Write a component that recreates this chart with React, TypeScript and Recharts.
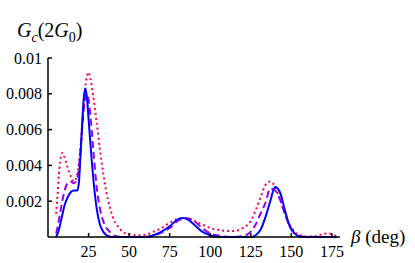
import React from "react";
import { LineChart, Line, XAxis, YAxis } from "recharts";

// beta (deg)
const beta = [
  5, 6, 7, 8, 9, 10, 12, 14, 16, 18, 19, 20, 21, 22, 23, 24, 25, 26, 28, 30,
  32, 34, 36, 38, 40, 43, 46, 50, 55, 60, 65, 70, 75, 80, 83, 86, 90, 95, 100,
  105, 110, 115, 120, 125, 128, 131, 134, 137, 140, 143, 146, 149, 152, 155,
  160, 165, 170, 173, 176, 178,
];

// solid blue
const gSolid = [
  0, 0.0002, 0.0005, 0.0009, 0.0013, 0.0017, 0.0022, 0.0025, 0.0026, 0.0026,
  0.003, 0.0045, 0.0062, 0.0077, 0.0083, 0.0078, 0.0066, 0.0054, 0.0032,
  0.0016, 0.0007, 0.0003, 0.0001, 0.00003, 0, 0, 0, 0, 0, 0, 0.0001, 0.0003,
  0.0006, 0.00098, 0.00106, 0.00098, 0.0007, 0.0003, 0.0001, 0, 0, 0, 0, 0,
  0.0001, 0.0004, 0.0011, 0.002, 0.0028, 0.0025, 0.0015, 0.0006, 0.0002,
  0.00003, 0, 0, 0, 0, 0, 0,
];

// dashed purple
const gDashed = [
  0.0002, 0.0006, 0.0011, 0.0016, 0.0021, 0.0025, 0.003, 0.0031, 0.003,
  0.0033, 0.0038, 0.0048, 0.006, 0.0071, 0.0078, 0.008, 0.0077, 0.0069,
  0.0048, 0.0028, 0.0016, 0.0009, 0.0005, 0.0003, 0.0001, 0.00003, 0, 0, 0, 0,
  0.00008, 0.00025, 0.0005, 0.0009, 0.00102, 0.00105, 0.0009, 0.0005, 0.0002,
  0.00008, 0.00002, 0, 0.00005, 0.0003, 0.0007, 0.0013, 0.0019, 0.0027,
  0.0026, 0.0021, 0.0013, 0.0006, 0.0002, 0.00005, 0, 0, 0, 0, 0, 0,
];

// dotted red
const gDotted = [
  0.0013, 0.0025, 0.0038, 0.0045, 0.0047, 0.0045, 0.0039, 0.0034, 0.0031,
  0.0035, 0.0041, 0.005, 0.0062, 0.0074, 0.0084, 0.009, 0.0092, 0.0089,
  0.0078, 0.0064, 0.0049, 0.0036, 0.0025, 0.0017, 0.0011, 0.0006, 0.0003,
  0.00015, 0.0001, 0.00012, 0.0003, 0.0005, 0.0008, 0.00102, 0.00107,
  0.00105, 0.0009, 0.0007, 0.0005, 0.0004, 0.00034, 0.00034, 0.0005, 0.0009,
  0.0015, 0.0022, 0.0029, 0.0031, 0.0028, 0.0021, 0.0013, 0.0007, 0.0003,
  0.0001, 0.00003, 0.00005, 0.00018, 0.0002, 0.0001, 0.00002,
];

const xTicks = [25, 50, 75, 100, 125, 150, 175];
const yTicks = [0.002, 0.004, 0.006, 0.008, 0.01];

const data = beta.map((b, i) => ({
  beta: b,
  solid: gSolid[i],
  dashed: gDashed[i],
  dotted: gDotted[i],
}));

const font = "Liberation Serif, Times New Roman, serif";

export default function App() {
  return (
    <div style={{ position: "absolute", left: 0, top: 0, width: 415, height: 263, background: "#fff" }}>
      <LineChart width={415} height={263} data={data} margin={{ top: 58, right: 75, left: 0, bottom: 4 }}>
        <XAxis
          dataKey="beta"
          type="number"
          domain={[0, 180]}
          ticks={xTicks}
          stroke="#000"
          strokeWidth={1.5}
          tickSize={-4}
          tickMargin={13}
          height={22}
          tick={{ fill: "#000", fontSize: 16, fontFamily: font }}
        />
        <YAxis
          type="number"
          domain={[0, 0.01]}
          ticks={yTicks}
          width={48}
          stroke="#000"
          strokeWidth={1.5}
          tickSize={-4}
          tickMargin={10}
          tickFormatter={(v: number) => String(v)}
          tick={{ fill: "#000", fontSize: 16, fontFamily: font }}
        />
        <Line
          type="monotone"
          dataKey="dotted"
          stroke="#ff0055"
          strokeWidth={2}
          strokeDasharray="2 3"
          dot={false}
          isAnimationActive={false}
        />
        <Line
          type="monotone"
          dataKey="dashed"
          stroke="#9900ee"
          strokeWidth={2}
          strokeDasharray="7 4"
          dot={false}
          isAnimationActive={false}
        />
        <Line
          type="monotone"
          dataKey="solid"
          stroke="#0000ff"
          strokeWidth={2}
          dot={false}
          isAnimationActive={false}
        />
      </LineChart>
      <div style={{ position: "absolute", left: 17, top: 19, fontFamily: font, fontSize: 20, color: "#000", whiteSpace: "nowrap" }}>
        <i>G</i>
        <sub style={{ fontSize: 14, fontStyle: "italic" }}>c</sub>(2<i>G</i>
        <sub style={{ fontSize: 14 }}>0</sub>)
      </div>
      <div style={{ position: "absolute", left: 351, top: 226, fontFamily: font, fontSize: 19, color: "#000", whiteSpace: "nowrap" }}>
        <i>β</i> (deg)
      </div>
    </div>
  );
}
